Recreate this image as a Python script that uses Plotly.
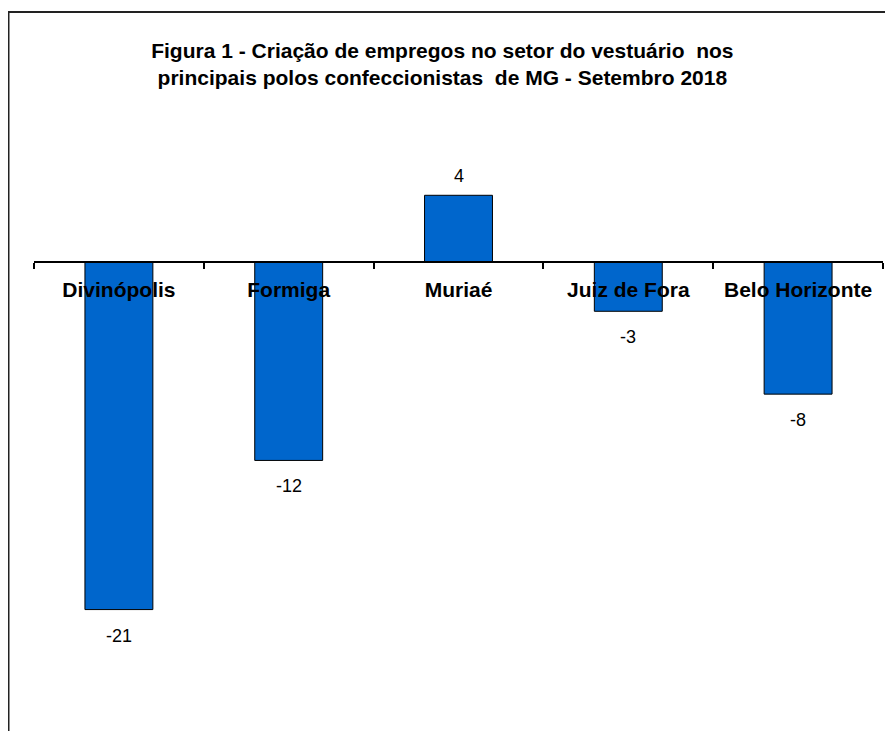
import plotly.graph_objects as go

categories = ["Divinópolis", "Formiga", "Muriaé", "Juiz de Fora", "Belo Horizonte"]
values = [-21, -12, 4, -3, -8]
title_lines = ["Figura 1 - Criação de empregos no setor do vestuário  nos",
               "principais polos confeccionistas  de MG - Setembro 2018"]

FONT = "Liberation Sans, Arial, sans-serif"
ymin, ymax = -27, 8
W, H = 885, 723
L, R, T, B = 26, 10, 121, 22
pw, ph = W - L - R, H - T - B

fig = go.Figure()
fig.add_trace(go.Bar(
    x=categories, y=values,
    marker=dict(color="#0066CC", line=dict(color="black", width=1)),
    width=0.4,
    hoverinfo="x+y",
))

annotations = []
for c, v in zip(categories, values):
    annotations.append(dict(
        x=c, y=v, xref="x", yref="y", text=str(v), showarrow=False,
        yanchor="middle", yshift=(19 if v >= 0 else -26),
        font=dict(family=FONT, size=18, color="black"),
    ))

fig.update_layout(
    width=W, height=H,
    margin=dict(l=L, r=R, t=T, b=B),
    paper_bgcolor="white", plot_bgcolor="white",
    showlegend=False,
    title=dict(
        text="<br>".join(title_lines),
        x=0.481, xanchor="center", xref="paper",
        y=(H - 49.5) / H, yanchor="middle", yref="container",
        font=dict(family=FONT, size=21, color="black", weight="bold"),
    ),
    annotations=annotations,
    xaxis=dict(
        anchor="free", position=(0 - ymin) / (ymax - ymin),
        showline=True, linecolor="black", linewidth=2,
        ticks="outside", tickson="boundaries", ticklen=6, tickcolor="black", tickwidth=1.5,
        ticklabelstandoff=9,
        tickfont=dict(family=FONT, size=21, color="black", weight="bold"),
        showgrid=False, zeroline=False, layer="above traces",
    ),
    yaxis=dict(range=[ymin, ymax], visible=False, showgrid=False, zeroline=False),
    shapes=[dict(
        type="rect", xref="paper", yref="paper",
        x0=(0.5 - L) / pw, x1=1.2, y0=-0.2, y1=(H - B - 4) / ph,
        line=dict(color="#222222", width=2), fillcolor="rgba(0,0,0,0)", layer="below",
    )],
)

fig.write_html("out.html")
